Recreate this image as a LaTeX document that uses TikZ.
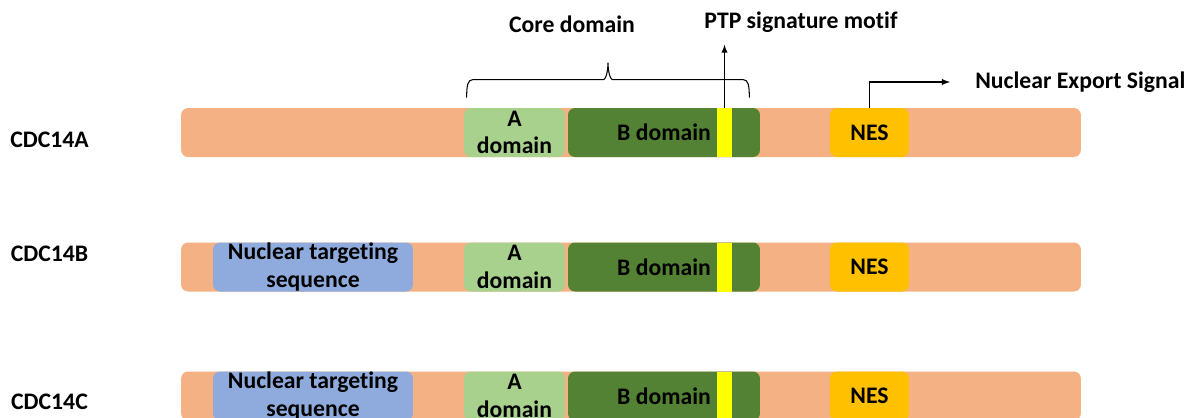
\documentclass[tikz,border=0pt]{standalone}
\usepackage{fontspec}
\setmainfont[Ligatures=NoCommon]{Carlito}
\usepackage{tikz}
\usetikzlibrary{arrows,positioning,calc}
\definecolor{saumon}{HTML}{F4B183}
\definecolor{vertA}{HTML}{A9D18E}
\definecolor{vertB}{HTML}{548235}
\definecolor{jaune}{HTML}{FFFF00}
\definecolor{orNES}{HTML}{FFC000}
\definecolor{bleuNTS}{HTML}{8FAADC}

\begin{document}
\begin{tikzpicture}[x=0.02cm,y=-0.02cm,
  txt/.style={font=\bfseries\fontsize{13.5}{15.5}\selectfont,align=center,inner sep=0pt},
  boite/.style={txt,rounded corners=4pt,minimum height=0.98cm},
  barre/.style={boite,fill=saumon,minimum width=18cm},
  doma/.style={boite,fill=vertA,minimum width=2.02cm},
  domb/.style={boite,fill=vertB,minimum width=3.84cm},
  motif/.style={boite,rounded corners=0pt,fill=jaune,minimum width=0.3cm},
  nes/.style={boite,fill=orNES,minimum width=1.58cm},
  nts/.style={boite,fill=bleuNTS,minimum width=4cm}]%
\clip (0,0) rectangle (1188,417);
%%PROTEINES
\node[txt] (la) at (49.5,140) {CDC14A};
\node[txt] (lb) at (49.5,254) {CDC14B};
\node[txt] (lc) at (49.5,402) {CDC14C};
%%CDC14A
\node[barre] (bara) at (631,132.5) {};
\node[doma] (aa) at (514.5,132.5) {A\\domain};
\node[domb] (ba) at (664,132.5) {B domain};
\node[motif] (ya) at (724.5,132.5) {};
\node[nes] (nesa) at (869.5,132.5) {NES};
%%CDC14B
\node[barre] (barb) at (631,267) {};
\node[nts] (ntsb) at (313,267) {Nuclear targeting\\sequence};
\node[doma] (ab) at (514.5,267) {A\\domain};
\node[domb] (bb) at (664,267) {B domain};
\node[motif] (yb) at (724.5,267) {};
\node[nes] (nesb) at (869.5,267) {NES};
%%CDC14C
\node[barre] (barc) at (631,396) {};
\node[nts] (ntsc) at (313,396) {Nuclear targeting\\sequence};
\node[doma] (ac) at (514.5,396) {A\\domain};
\node[domb] (bc) at (664,396) {B domain};
\node[motif] (yc) at (724.5,396) {};
\node[nes] (nesc) at (869.5,396) {NES};
%%LEGENDES
\node[txt] (core) at (572,24) {Core domain};
\node[txt] (ptp) at (801,22) {PTP signature motif};
\node[txt,anchor=west] (nesl) at (975,82) {Nuclear Export Signal};
\coordinate (cg) at ([xshift=0.06cm,yshift=0.2cm]aa.north west);
\coordinate (cd) at ([xshift=-0.22cm,yshift=0.2cm]ba.north east);
\coordinate (cm) at ($(cg)!0.5!(cd)$);
%%ACCOLADE
\draw[line width=0.6pt] (cg) .. controls +(0,-12) and +(-5,0) .. ++(6,-18)
  -- ([xshift=-0.1cm,yshift=0.36cm]cm) .. controls +(4,0) and +(0,4) .. ([yshift=0.7cm]cm)
  .. controls +(0,4) and +(-4,0) .. ([xshift=0.1cm,yshift=0.36cm]cm)
  -- ([xshift=-0.12cm,yshift=0.36cm]cd) .. controls +(5,0) and +(0,-12) .. (cd); %%
\draw[-latex,line width=0.6pt] (ya.north)--++(0,-63); %%
\draw[-latex,line width=0.6pt,shorten >=0.5cm] (nesa.north)|-(nesl.west); %%
\end{tikzpicture}
\end{document}
